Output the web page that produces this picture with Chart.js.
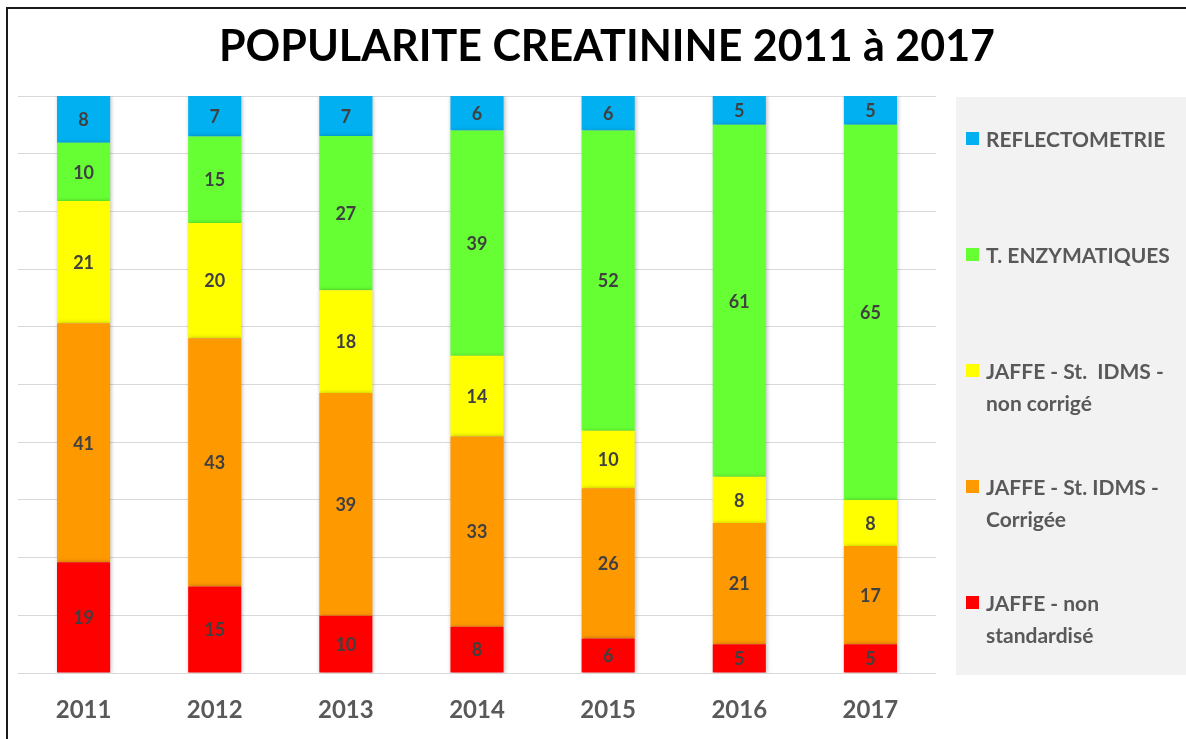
<!DOCTYPE html>
<html>
<head>
<meta charset="utf-8">
<script src="https://cdn.jsdelivr.net/npm/chart.js@4.4.1/dist/chart.umd.min.js"></script>
<style>
  html, body { margin: 0; padding: 0; background: #fff; overflow: hidden; }
  #wrap { position: relative; width: 1186px; height: 739px; }
  #frame { position: absolute; left: 6px; top: 7px; width: 1200px; height: 760px; border: 2px solid #1a1a1a; box-sizing: border-box; }
  canvas { position: absolute; left: 0; top: 0; }
</style>
</head>
<body>
<div id="wrap">
  <div id="frame"></div>
  <canvas id="myChart" width="1186" height="739"></canvas>
</div>
<script>
var chartTitle = 'POPULARITE CREATININE 2011 à 2017';
var years = ['2011', '2012', '2013', '2014', '2015', '2016', '2017'];

// stacked from the bottom up
var jaffeNonStd   = [19, 15, 10, 8, 6, 5, 5];
var jaffeCorrigee = [41, 43, 39, 33, 26, 21, 17];
var jaffeNonCorr  = [21, 20, 18, 14, 10, 8, 8];
var enzymatiques  = [10, 15, 27, 39, 52, 61, 65];
var reflecto      = [8, 7, 7, 6, 6, 5, 5];

var seriesNames = [
    ['JAFFE - non', 'standardisé'],
    ['JAFFE - St. IDMS -', 'Corrigée'],
    ['JAFFE - St.  IDMS -', 'non corrigé'],
    ['T. ENZYMATIQUES'],
    ['REFLECTOMETRIE']
];
var seriesColors = ['#ff0000', '#ff9900', '#ffff00', '#66ff33', '#00b0f0'];
var seriesValues = [jaffeNonStd, jaffeCorrigee, jaffeNonCorr, enzymatiques, reflecto];

var FONT = 'Lato, "Open Sans", sans-serif';

// each year is shown as shares of 100
var totals = years.map(function (y, i) {
    return seriesValues.reduce(function (s, arr) { return s + arr[i]; }, 0);
});
function toShare(arr) {
    return arr.map(function (v, i) { return v / totals[i] * 100; });
}

var datasets = seriesValues.map(function (arr, k) {
    return {
        label: seriesNames[k].join(' '),
        data: toShare(arr),
        raw: arr,
        backgroundColor: seriesColors[k],
        borderWidth: 0,
        barPercentage: 0.405,
        categoryPercentage: 1
    };
});

var barShadow = {
    id: 'barShadow',
    beforeDatasetsDraw: function (chart) {
        var c = chart.ctx;
        c.save();
        c.shadowColor = 'rgba(0,0,0,0.28)';
        c.shadowBlur = 4;
        c.shadowOffsetX = 1;
        c.shadowOffsetY = 0;
    },
    afterDatasetsDraw: function (chart) {
        chart.ctx.restore();
    }
};

var valueLabels = {
    id: 'valueLabels',
    afterDatasetsDraw: function (chart) {
        var c = chart.ctx;
        c.save();
        c.font = 'bold 18px ' + FONT;
        c.fillStyle = '#404040';
        c.textAlign = 'center';
        c.textBaseline = 'middle';
        chart.data.datasets.forEach(function (ds, k) {
            var meta = chart.getDatasetMeta(k);
            meta.data.forEach(function (bar, i) {
                var p = bar.getProps(['x', 'y', 'base'], true);
                c.fillText(ds.raw[i], p.x, (p.y + p.base) / 2 + 1);
            });
        });
        c.restore();
    }
};

var topTitle = {
    id: 'topTitle',
    afterDraw: function (chart) {
        var c = chart.ctx;
        c.save();
        c.font = 'bold 43px ' + FONT;
        c.fillStyle = '#000';
        c.textAlign = 'center';
        c.textBaseline = 'middle';
        c.fillText(chartTitle, 607, 47);
        c.restore();
    }
};

var sideLegend = {
    id: 'sideLegend',
    afterDraw: function (chart) {
        var c = chart.ctx;
        var area = chart.chartArea;
        var x0 = 956;
        c.save();
        c.fillStyle = '#f2f2f2';
        c.fillRect(x0, area.top + 1, chart.width - x0, area.bottom - area.top + 1);
        c.font = 'bold 21px ' + FONT;
        c.textBaseline = 'middle';
        c.textAlign = 'left';
        var n = chart.data.datasets.length;
        for (var j = 0; j < n; j++) {
            var k = n - 1 - j;
            var y = 139 + j * 116;
            c.fillStyle = seriesColors[k];
            c.fillRect(x0 + 10, y - 7, 13, 13);
            c.fillStyle = '#595959';
            seriesNames[k].forEach(function (line, l) {
                c.fillText(line, x0 + 30, y + 1 + l * 32);
            });
        }
        c.restore();
    }
};

window.onload = function () {
    var ctx = document.getElementById('myChart').getContext('2d');
    new Chart(ctx, {
        type: 'bar',
        data: { labels: years, datasets: datasets },
        plugins: [barShadow, valueLabels, topTitle, sideLegend],
        options: {
            responsive: false,
            animation: false,
            layout: { padding: { left: 18, right: 250, top: 96, bottom: 15 } },
            plugins: {
                legend: { display: false },
                tooltip: { enabled: false },
                title: { display: false }
            },
            scales: {
                x: {
                    stacked: true,
                    grid: { display: false, drawTicks: false },
                    border: { display: false },
                    ticks: {
                        color: '#595959',
                        padding: 23,
                        font: { family: FONT, size: 24, weight: 'bold', lineHeight: 1.2 }
                    },
                    afterFit: function (scale) { scale.height = 51; }
                },
                y: {
                    stacked: true,
                    min: 0,
                    max: 100,
                    ticks: { display: false, stepSize: 10 },
                    grid: { color: '#d9d9d9', lineWidth: 1, drawTicks: false },
                    border: { display: false },
                    afterFit: function (scale) { scale.width = 0; }
                }
            }
        }
    });
};
</script>
</body>
</html>
